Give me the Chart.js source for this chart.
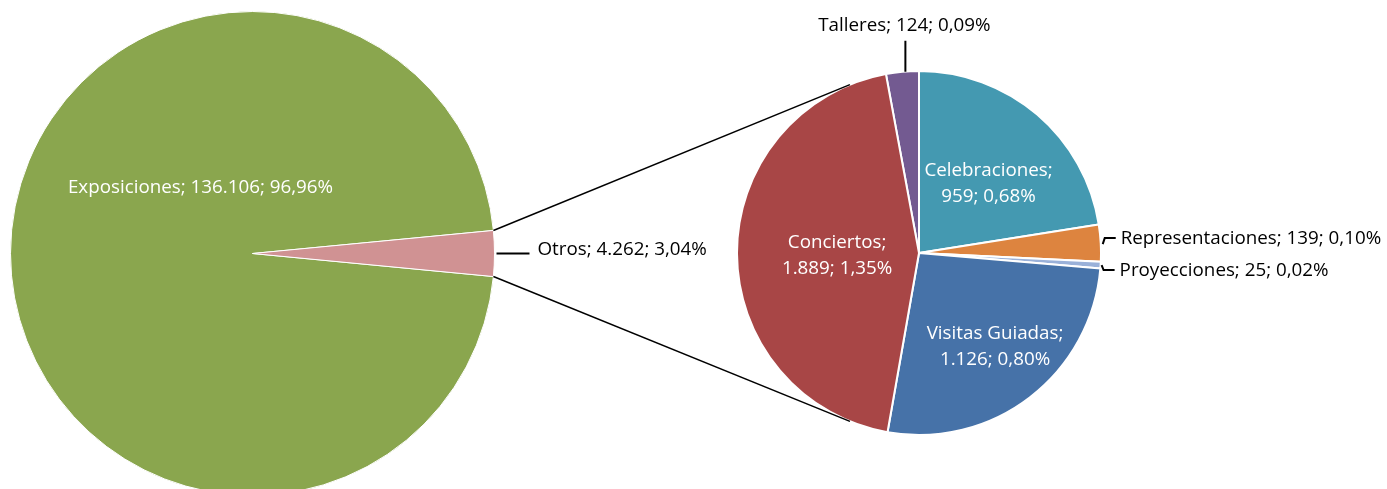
<!DOCTYPE html>
<html><head><meta charset="utf-8">
<script src="https://cdn.jsdelivr.net/npm/chart.js@4.4.0/dist/chart.umd.min.js"></script>
<style>
html,body{margin:0;padding:0;background:#fff;overflow:hidden;width:1387px;height:489px;}
#wrapL{position:absolute;left:10px;top:11px;width:485px;height:485px;}
#wrapR{position:absolute;left:736px;top:70px;width:366px;height:366px;}
#overlay{position:absolute;left:0;top:0;pointer-events:none;}
</style></head>
<body>
<div id="wrapL"><canvas id="cL" width="485" height="485"></canvas></div>
<div id="wrapR"><canvas id="cR" width="366" height="366"></canvas></div>
<canvas id="overlay" width="1387" height="489"></canvas>
<script>
// Main pie
const mainCategories = ["Exposiciones", "Otros"];
const mainValues = [136106, 4262];
const mainValueLabels = ["136.106", "4.262"];
const mainPctLabels = ["96,96%", "3,04%"];
const mainColors = ["#8AA64E", "#D09293"];

// Secondary pie ("Otros" breakdown)
const subCategories = ["Talleres", "Celebraciones", "Representaciones", "Proyecciones", "Visitas Guiadas", "Conciertos"];
const subValues = [124, 959, 139, 25, 1126, 1889];
const subValueLabels = ["124", "959", "139", "25", "1.126", "1.889"];
const subPctLabels = ["0,09%", "0,68%", "0,10%", "0,02%", "0,80%", "1,35%"];
const subColors = ["#735A91", "#4499B1", "#DD843F", "#9AB1D9", "#4672A8", "#A84646"];

const FONT = "18.8px 'Open Sans', 'Liberation Sans', sans-serif";

const mainTotal = mainValues.reduce((a,b)=>a+b,0);
const subTotal = subValues.reduce((a,b)=>a+b,0);
const otrosShare = mainValues[1]/mainTotal;

const common = {
  responsive:false, animation:false, events:[],
  plugins:{legend:{display:false}, tooltip:{enabled:false}},
  layout:{padding:0}
};

const chartL = new Chart(document.getElementById('cL'), {
  type:'pie',
  data:{labels:mainCategories, datasets:[{data:mainValues, backgroundColor:mainColors, borderColor:'#ffffff', borderWidth:1}]},
  options:Object.assign({}, common, {rotation: 90 + otrosShare*180})
});
const chartR = new Chart(document.getElementById('cR'), {
  type:'pie',
  data:{labels:subCategories, datasets:[{data:subValues, backgroundColor:subColors, borderColor:'#ffffff', borderWidth:2}]},
  options:Object.assign({}, common, {rotation: -(subValues[0]/subTotal)*360})
});

function arcInfo(chart, wrapId, i){
  const a = chart.getDatasetMeta(0).data[i];
  const w = document.getElementById(wrapId);
  return {x:a.x + w.offsetLeft, y:a.y + w.offsetTop, r:a.outerRadius, s:a.startAngle, e:a.endAngle, m:(a.startAngle+a.endAngle)/2};
}
function pt(c, ang, r){ return [c.x + Math.cos(ang)*r, c.y + Math.sin(ang)*r]; }

function drawOverlay(){
  const ctx = document.getElementById('overlay').getContext('2d');
  ctx.clearRect(0,0,1387,489);
  ctx.strokeStyle = '#000'; ctx.lineWidth = 1.5;
  // connector lines between Otros slice and secondary pie
  const ot = arcInfo(chartL, 'wrapL', 1);
  const sc = arcInfo(chartR, 'wrapR', 0);
  const p1 = pt(ot, ot.s, ot.r), p2 = pt(ot, ot.e, ot.r);
  const tAng = (22.3) * Math.PI/180;
  const q1 = pt(sc, -Math.PI/2 - tAng, sc.r), q2 = pt(sc, Math.PI/2 + tAng, sc.r);
  ctx.beginPath(); ctx.moveTo(p1[0],p1[1]); ctx.lineTo(q1[0],q1[1]); ctx.stroke();
  ctx.beginPath(); ctx.moveTo(p2[0],p2[1]); ctx.lineTo(q2[0],q2[1]); ctx.stroke();

  ctx.font = FONT; ctx.textBaseline = 'alphabetic';
  ctx.lineWidth = 2;
  const lbl = (i, cats, vals, pcts) => cats[i] + "; " + vals[i] + "; " + pcts[i];

  // Exposiciones (inside, white)
  const ex = arcInfo(chartL, 'wrapL', 0);
  ctx.fillStyle = '#fff'; ctx.textAlign = 'center';
  ctx.fillText(lbl(0, mainCategories, mainValueLabels, mainPctLabels), ex.x - 52, ex.y - 61);

  // Otros (outside with leader)
  const oe = pt(ot, ot.m, ot.r);
  ctx.beginPath(); ctx.moveTo(oe[0]+2, oe[1]); ctx.lineTo(oe[0]+35, oe[1]); ctx.stroke();
  ctx.fillStyle = '#000'; ctx.textAlign = 'left';
  ctx.fillText(lbl(1, mainCategories, mainValueLabels, mainPctLabels), oe[0]+43, oe[1]+1);

  // Talleres (above with vertical leader)
  const ta = arcInfo(chartR, 'wrapR', 0);
  const te = pt(ta, ta.m, ta.r);
  ctx.beginPath(); ctx.moveTo(te[0]+3, te[1]); ctx.lineTo(te[0]+3, te[1]-31); ctx.stroke();
  ctx.textAlign = 'center';
  ctx.fillText(lbl(0, subCategories, subValueLabels, subPctLabels), te[0]+2, te[1]-41);

  // Representaciones (right with bracket leader)
  const re = arcInfo(chartR, 'wrapR', 2);
  const rp = pt(re, re.m, re.r);
  ctx.beginPath(); ctx.moveTo(rp[0]+2, rp[1]+1); ctx.lineTo(rp[0]+4, rp[1]-5); ctx.lineTo(rp[0]+15, rp[1]-5); ctx.stroke();
  ctx.textAlign = 'left';
  ctx.fillText(lbl(2, subCategories, subValueLabels, subPctLabels), rp[0]+20, rp[1]+1);

  // Proyecciones
  const pr = arcInfo(chartR, 'wrapR', 3);
  const pp = pt(pr, pr.m, pr.r);
  ctx.beginPath(); ctx.moveTo(pp[0]+1, pp[1]); ctx.lineTo(pp[0]+3, pp[1]+5); ctx.lineTo(pp[0]+14, pp[1]+5); ctx.stroke();
  ctx.fillText(lbl(3, subCategories, subValueLabels, subPctLabels), pp[0]+19, pp[1]+11);

  // Inside two-line labels (white)
  ctx.fillStyle = '#fff'; ctx.textAlign = 'center';
  const inside = [[1, 0.55, 44], [4, 0.65, 140], [5, 0.45, 270]];
  inside.forEach(([i, f, angDeg]) => {
    const a = arcInfo(chartR, 'wrapR', i);
    const ang = (angDeg - 90) * Math.PI/180;
    const c = pt(a, ang, a.r*f);
    ctx.fillText(subCategories[i] + ";", c[0], c[1]-5);
    ctx.fillText(subValueLabels[i] + "; " + subPctLabels[i], c[0], c[1]+21);
  });
}
drawOverlay();
</script>
</body></html>
